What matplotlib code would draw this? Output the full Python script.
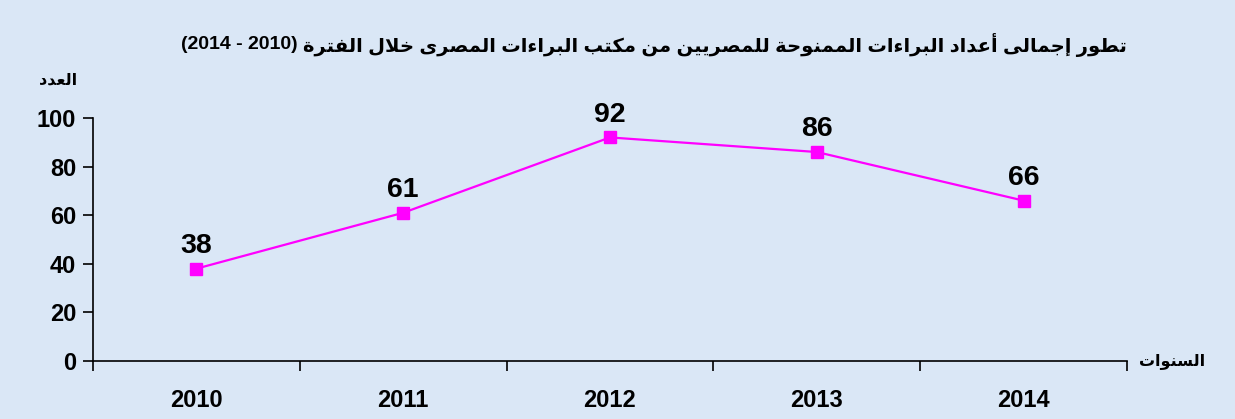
import matplotlib
matplotlib.use("Agg")
import matplotlib.pyplot as plt

# ── data ────────────────────────────────────────────────────────────
years = ["2010", "2011", "2012", "2013", "2014"]
patents = [38, 61, 92, 86, 66]
y_ticks = [0, 20, 40, 60, 80, 100]

TITLE_AR = "تطور إجمالى أعداد البراءات الممنوحة للمصريين من مكتب البراءات المصرى خلال الفترة"
TITLE_YEARS = "(2014 - 2010)"   # visual left-to-right order as in the source
YLABEL_AR = "العدد"
XLABEL_AR = "السنوات"

BG = "#DAE7F6"
MAGENTA = "#FF00FF"
FONTS = ["Liberation Sans", "DejaVu Sans"]

# ── minimal arabic shaping (matplotlib has no bidi / joining) ──────
FOUR = {"ئ": 0xFE89, "ب": 0xFE8F, "ت": 0xFE95, "ث": 0xFE99, "ج": 0xFE9D,
        "ح": 0xFEA1, "خ": 0xFEA5, "س": 0xFEB1, "ش": 0xFEB5, "ص": 0xFEB9,
        "ض": 0xFEBD, "ط": 0xFEC1, "ظ": 0xFEC5, "ع": 0xFEC9, "غ": 0xFECD,
        "ف": 0xFED1, "ق": 0xFED5, "ك": 0xFED9, "ل": 0xFEDD, "م": 0xFEE1,
        "ن": 0xFEE5, "ه": 0xFEE9, "ي": 0xFEF1}
TWO = {"آ": 0xFE81, "أ": 0xFE83, "ؤ": 0xFE85, "إ": 0xFE87, "ا": 0xFE8D,
       "ة": 0xFE93, "د": 0xFEA9, "ذ": 0xFEAB, "ر": 0xFEAD, "ز": 0xFEAF,
       "و": 0xFEED, "ى": 0xFEEF}
ONE = {"ء": 0xFE80}
LAM_ALEF = {"آ": 0xFEF5, "أ": 0xFEF7, "إ": 0xFEF9, "ا": 0xFEFB}


def shape(text):
    # merge lam+alef into a single token
    toks = []
    i = 0
    while i < len(text):
        c = text[i]
        if c == "ل" and i + 1 < len(text) and text[i + 1] in LAM_ALEF:
            toks.append(("LA", text[i + 1]))
            i += 2
        else:
            toks.append((c, None))
            i += 1

    def joins_left(t):  # can connect to the following letter
        return t[0] in FOUR

    def joins_right(t):  # can connect to the preceding letter
        return t[0] in FOUR or t[0] in TWO or t[0] == "LA"

    out = []
    for k, t in enumerate(toks):
        prev_j = k > 0 and joins_left(toks[k - 1]) and joins_right(t)
        next_j = joins_left(t) and k + 1 < len(toks) and joins_right(toks[k + 1])
        c = t[0]
        if c == "LA":
            out.append(chr(LAM_ALEF[t[1]] + (1 if prev_j else 0)))
        elif c in FOUR:
            b = FOUR[c]
            off = 3 if (prev_j and next_j) else 1 if prev_j else 2 if next_j else 0
            out.append(chr(b + off))
        elif c in TWO:
            out.append(chr(TWO[c] + (1 if prev_j else 0)))
        elif c in ONE:
            out.append(chr(ONE[c]))
        else:
            out.append(c)
    return "".join(out)[::-1]


# ── figure ──────────────────────────────────────────────────────────
fig = plt.figure(figsize=(12.35, 4.19), dpi=100)
fig.patch.set_facecolor(BG)
ax = fig.add_axes([0.0753, 0.1384, 0.8372, 0.58])
ax.set_facecolor(BG)

x = list(range(len(years)))
ax.plot(x, patents, color=MAGENTA, lw=1.6, marker="s", markersize=8,
        markerfacecolor=MAGENTA, markeredgecolor=MAGENTA, zorder=3)

for xi, v in zip(x, patents):
    ax.annotate(str(v), (xi, v), xytext=(0, 7), textcoords="offset points",
                ha="center", va="bottom", fontsize=20.5, fontweight="bold",
                family=FONTS, color="black")

ax.set_xlim(-0.5, len(years) - 0.5)
ax.set_ylim(0, 100)
ax.set_yticks(y_ticks)
ax.set_yticklabels([str(t) for t in y_ticks], fontsize=17, fontweight="bold",
                   family=FONTS)

# category boundaries get tick marks, labels sit between them
ax.set_xticks([i - 0.5 for i in range(len(years) + 1)])
ax.set_xticklabels([])
ax.set_xticks(x, minor=True)
ax.set_xticklabels(years, minor=True, fontsize=17, fontweight="bold",
                   family=FONTS)
ax.tick_params(axis="x", which="major", direction="out", length=7, width=1.2)
ax.tick_params(axis="x", which="minor", length=0, pad=20)
ax.tick_params(axis="y", direction="out", length=7, width=1.2, pad=5)

for s in ["top", "right"]:
    ax.spines[s].set_visible(False)
for s in ["left", "bottom"]:
    ax.spines[s].set_linewidth(1.2)

# ── texts ───────────────────────────────────────────────────────────
t_ar = fig.text(0.9125, 0.893, shape(TITLE_AR), ha="right", va="center",
                fontsize=14, fontweight="bold", family=FONTS)
fig.canvas.draw()
bb = t_ar.get_window_extent().transformed(fig.transFigure.inverted())
fig.text(bb.x0 - 0.004, 0.893, TITLE_YEARS, ha="right", va="center",
         fontsize=14, fontweight="bold", family=FONTS)

fig.text(0.047, 0.81, shape(YLABEL_AR), ha="center", va="center",
         fontsize=11.5, fontweight="bold", family=FONTS)
fig.text(0.9225, 0.138, shape(XLABEL_AR), ha="left", va="center",
         fontsize=11.5, fontweight="bold", family=FONTS)

fig.savefig("out.png", dpi=100, facecolor=BG)
